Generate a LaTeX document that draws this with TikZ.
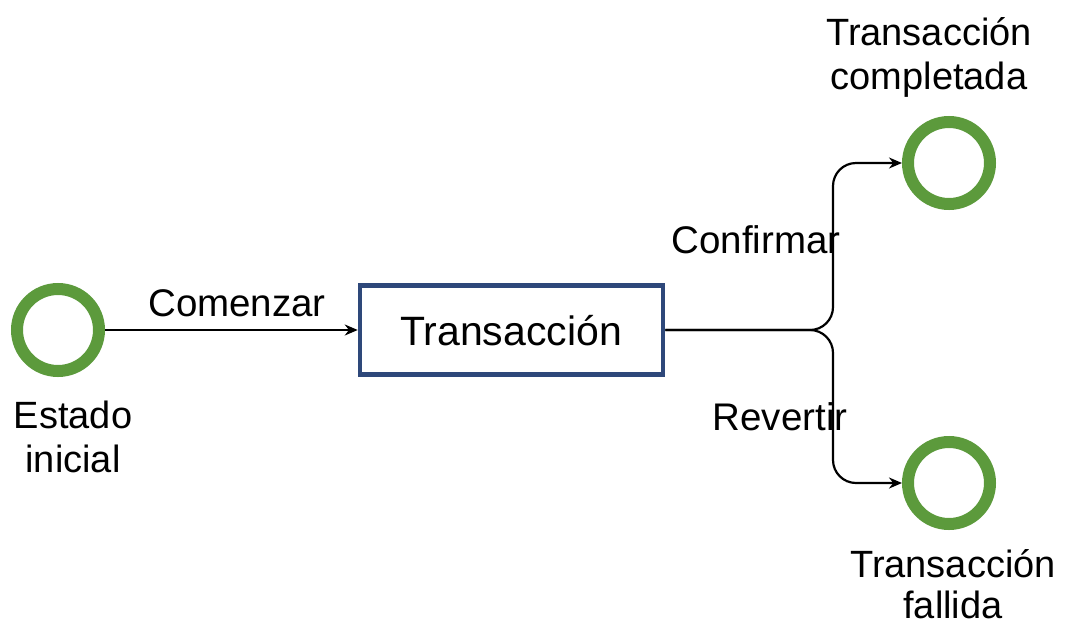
\documentclass[tikz,border=0pt]{standalone}
\usepackage{fontspec}
\setmainfont{Liberation Sans}
\usetikzlibrary{arrows.meta}

\definecolor{ringgreen}{RGB}{92,154,60}
\definecolor{boxblue}{RGB}{46,72,122}

\tikzset{
  state/.style={circle, draw=ringgreen, line width=12pt, minimum size=82pt, inner sep=0pt},
  taskbox/.style={rectangle, draw=boxblue, line width=4.5pt, minimum width=303pt, minimum height=89pt,
                  inner sep=0pt},
  lbl/.style={inner sep=0pt, font=\fontsize{38.5}{44}\selectfont},
  statelbl/.style={inner sep=0pt, align=center, font=\fontsize{38}{44}\selectfont},
  flow/.style={line width=2.2pt, -{Stealth[length=13pt,width=11pt]}},
}

\begin{document}
\begin{tikzpicture}[x=1pt,y=-1pt]
  \useasboundingbox (0,0) rectangle (1068,627);

  % states and the transaction box
  \node[state] (start) at (58,330) {};
  \node[state] (done)  at (949,163) {};
  \node[state] (fail)  at (949,483) {};
  \node[taskbox] (tx) at (511.5,330) {};
  \node[anchor=base, inner sep=0pt, font=\fontsize{41}{48}\selectfont] (txt) at (511,345) {Transacción};

  % state labels
  \node[statelbl, anchor=north] (lstart) at (73,401) {Estado\\inicial};
  \node[statelbl, anchor=north] (ldone)  at (929,17) {Transacción\\completada};
  \node[statelbl, anchor=north, font=\fontsize{38}{41}\selectfont] (lfail) at (953,549) {Transacción\\fallida};

  % transition labels
  \node[lbl, anchor=base] (lbegin)    at (237,316) {Comenzar};
  \node[lbl, anchor=base] (lcommit)   at (756,253) {Confirmar};
  \node[lbl, anchor=base] (lrollback) at (780,430) {Revertir};

  % transitions
  \coordinate (fork) at (833,330);
  \draw[flow] (start) -- (tx);
  \draw[flow, rounded corners=23pt] (tx.east) -- (fork) |- (done.west);
  \draw[flow, rounded corners=23pt] (tx.east) -- (fork) |- (fail.west);
\end{tikzpicture}
\end{document}
